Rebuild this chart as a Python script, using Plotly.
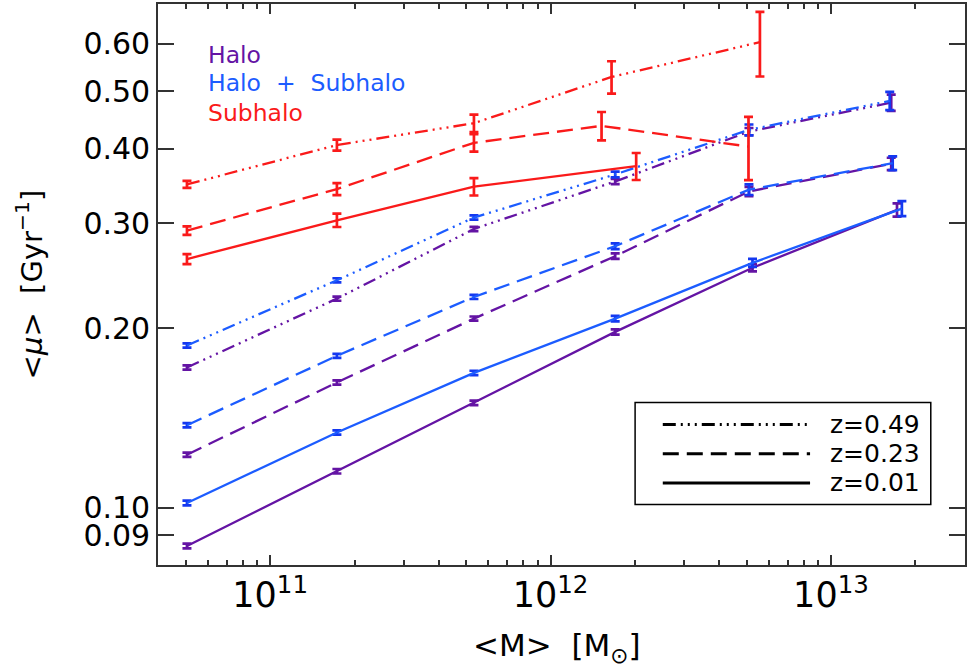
import plotly.graph_objects as go

# ---------------- data ----------------
# mean mass per bin (Msun) and <mu> (Gyr^-1) with errors
# Halo (purple)
halo_x_049 = [5.05e10, 1.73e11, 5.33e11, 1.70e12, 5.10e12, 1.64e13]
halo_y_049 = [0.1720, 0.2243, 0.2936, 0.3527, 0.4276, 0.4783]
halo_e_049 = [0.0014, 0.0018, 0.0024, 0.0035, 0.0060, 0.0150]

halo_x_023 = [5.05e10, 1.73e11, 5.33e11, 1.70e12, 5.10e12, 1.64e13]
halo_y_023 = [0.1228, 0.1623, 0.2077, 0.2643, 0.3394, 0.3775]
halo_e_023 = [0.0010, 0.0013, 0.0017, 0.0028, 0.0060, 0.0090]

halo_x_001 = [5.05e10, 1.73e11, 5.33e11, 1.70e12, 5.25e12, 1.72e13]
halo_y_001 = [0.0863, 0.1152, 0.1500, 0.1973, 0.2527, 0.3160]
halo_e_001 = [0.0008, 0.0010, 0.0013, 0.0020, 0.0035, 0.0080]

# Halo + Subhalo (blue)
hs_x_049 = [5.05e10, 1.73e11, 5.33e11, 1.70e12, 5.10e12, 1.62e13]
hs_y_049 = [0.1872, 0.2408, 0.3068, 0.3624, 0.4305, 0.4814]
hs_e_049 = [0.0015, 0.0019, 0.0025, 0.0040, 0.0090, 0.0170]

hs_x_023 = [5.05e10, 1.73e11, 5.33e11, 1.70e12, 5.10e12, 1.66e13]
hs_y_023 = [0.1376, 0.1799, 0.2258, 0.2747, 0.3417, 0.3785]
hs_e_023 = [0.0011, 0.0014, 0.0018, 0.0030, 0.0070, 0.0100]

hs_x_001 = [5.05e10, 1.73e11, 5.33e11, 1.70e12, 5.25e12, 1.79e13]
hs_y_001 = [0.1019, 0.1338, 0.1684, 0.2077, 0.2576, 0.3176]
hs_e_001 = [0.0009, 0.0011, 0.0014, 0.0022, 0.0040, 0.0092]

# Subhalo (red)
sub_x_049 = [5.05e10, 1.73e11, 5.33e11, 1.65e12, 5.58e12]
sub_y_049 = [0.3487, 0.4060, 0.4416, 0.5280, 0.6040]
sub_e_049 = [0.0047, 0.0086, 0.0150, 0.0330, 0.0750]

sub_x_023 = [5.05e10, 1.73e11, 5.33e11, 1.52e12, 5.08e12]
sub_y_023 = [0.2918, 0.3425, 0.4095, 0.4372, 0.4036]
sub_e_023 = [0.0048, 0.0079, 0.0137, 0.0240, 0.0490]

sub_x_001 = [5.05e10, 1.73e11, 5.33e11, 2.02e12]
sub_y_001 = [0.2614, 0.3036, 0.3457, 0.3742]
sub_e_001 = [0.0050, 0.0078, 0.0116, 0.0195]

y_tickvals = [0.09, 0.10, 0.20, 0.30, 0.40, 0.50, 0.60]
y_ticktext = ["0.09", "0.10", "0.20", "0.30", "0.40", "0.50", "0.60"]

legend_labels = ["z=0.49", "z=0.23", "z=0.01"]
group_labels = ["Halo", "Halo\u00a0\u00a0+\u00a0\u00a0Subhalo", "Subhalo"]

# ---------------- styles ----------------
PURPLE = "#6414A4"
BLUE = "#1C5CFF"
RED = "#FA1A1A"
DASH = {
    "0.49": "13px,5px,2px,5px,2px,5px,2px,5px",
    "0.23": "16px,8px",
    "0.01": "solid",
}
FONT = "DejaVu Sans"
AXC = "#333333"

fig = go.Figure()


def add(x, y, e, color, dash, ecolor=None):
    fig.add_trace(go.Scatter(
        x=x, y=y, mode="lines",
        line=dict(color=color, width=2.3, dash=dash),
        error_y=dict(type="data", array=e, visible=True,
                     color=ecolor or color, thickness=2.7, width=4.5),
        showlegend=False, hoverinfo="skip",
    ))


add(halo_x_049, halo_y_049, halo_e_049, PURPLE, DASH["0.49"])
add(halo_x_023, halo_y_023, halo_e_023, PURPLE, DASH["0.23"])
add(halo_x_001, halo_y_001, halo_e_001, PURPLE, DASH["0.01"])
add(hs_x_049, hs_y_049, hs_e_049, BLUE, DASH["0.49"], "#1438F0")
add(hs_x_023, hs_y_023, hs_e_023, BLUE, DASH["0.23"], "#1438F0")
add(hs_x_001, hs_y_001, hs_e_001, BLUE, DASH["0.01"], "#1438F0")
add(sub_x_049, sub_y_049, sub_e_049, RED, DASH["0.49"])
add(sub_x_023, sub_y_023, sub_e_023, RED, DASH["0.23"])
add(sub_x_001, sub_y_001, sub_e_001, RED, DASH["0.01"])

# ---------------- legend (drawn box) ----------------
shapes = [dict(type="rect", xref="paper", yref="paper",
               x0=0.5912, x1=0.9576, y0=0.1078, y1=0.2895,
               line=dict(color="black", width=1.5), fillcolor="white")]
annotations = []
rows_y = [0.2504, 0.1984, 0.1462]
for lab, yy, key in zip(legend_labels, rows_y, ["0.49", "0.23", "0.01"]):
    shapes.append(dict(type="line", xref="paper", yref="paper",
                       x0=0.6255, x1=0.808, y0=yy, y1=yy,
                       line=dict(color="black", width=3, dash=DASH[key])))
    annotations.append(dict(xref="paper", yref="paper", x=0.8300, y=yy,
                            text=lab, showarrow=False, xanchor="left",
                            yanchor="middle",
                            font=dict(family=FONT, size=25, color="black")))

for lab, yy, col in zip(group_labels, [0.9094, 0.8584, 0.8051],
                        [PURPLE, BLUE, RED]):
    annotations.append(dict(xref="paper", yref="paper", x=0.0590, y=yy,
                            text=lab, showarrow=False, xanchor="left",
                            yanchor="middle",
                            font=dict(family=FONT, size=23.5, color=col)))

# axis titles
annotations.append(dict(xref="paper", yref="paper", x=0.495, y=-0.147,
                        text="&lt;M&gt;  [M<sub>⊙</sub>]", showarrow=False,
                        xanchor="center", yanchor="middle",
                        font=dict(family=FONT, size=31, color="black")))
annotations.append(dict(xref="paper", yref="paper", x=-0.160, y=0.50,
                        text="&lt;<i>μ</i>&gt;  [Gyr<sup>−1</sup>]",
                        showarrow=False, textangle=-90,
                        xanchor="center", yanchor="middle",
                        font=dict(family=FONT, size=29, color="black")))

fig.update_layout(
    width=969, height=671,
    margin=dict(l=158, r=2, t=2, b=106),
    paper_bgcolor="white", plot_bgcolor="white",
    font=dict(family=FONT, color="black"),
    shapes=shapes, annotations=annotations,
)
fig.update_xaxes(
    type="log", range=[10.6, 13.478], dtick=1, exponentformat="power",
    showgrid=False, zeroline=False,
    showline=True, linecolor=AXC, linewidth=1.6, mirror="allticks",
    ticks="inside", ticklen=10, tickcolor=AXC, tickwidth=1.5,
    tickfont=dict(family=FONT, size=28, color="black"),
    minor=dict(dtick="D1", ticks="inside", ticklen=5, tickcolor=AXC,
               tickwidth=1.5, showgrid=False),
)
fig.update_yaxes(
    type="log", range=[-1.0958, -0.155],
    tickvals=y_tickvals, ticktext=y_ticktext,
    showgrid=False, zeroline=False,
    showline=True, linecolor=AXC, linewidth=1.6, mirror="allticks",
    ticks="inside", ticklen=16, tickcolor=AXC, tickwidth=1.5,
    tickfont=dict(family=FONT, size=30, color="black"),
)

fig.write_html("out.html")
